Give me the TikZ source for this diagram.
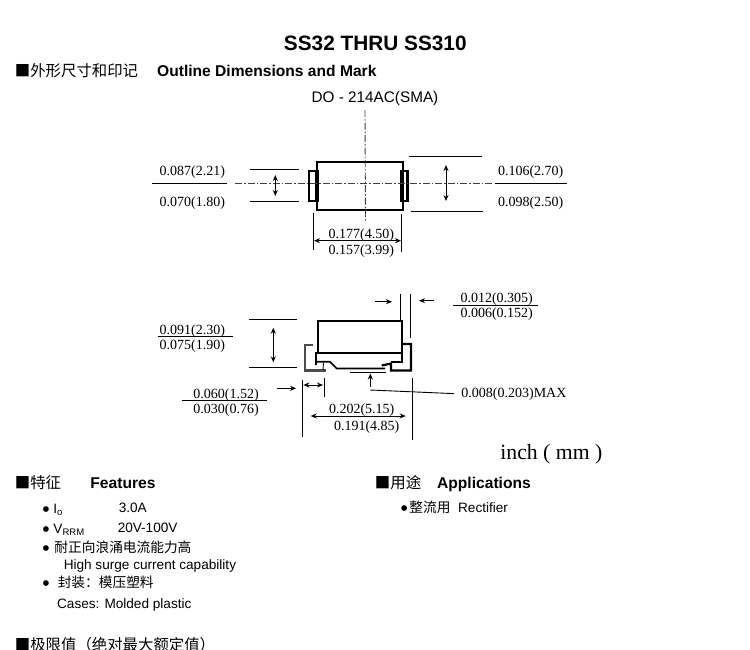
\documentclass[tikz,border=0pt]{standalone}
\usepackage{fontspec}
\setmainfont{Liberation Serif}
\setsansfont{Liberation Sans}
\newfontfamily\cjk{Noto Sans CJK SC}
\usetikzlibrary{arrows.meta}

\begin{document}
\begin{tikzpicture}[x=1pt, y=-1pt, >={Stealth[length=6pt,width=5pt]}, line width=0.9pt,
		val/.style = {inner sep=0, anchor=mid, yshift=-1.7pt, font=\fontsize{14}{14}\selectfont},
		head/.style = {inner sep=0, anchor=mid west, yshift=-3.5pt, font=\sffamily\bfseries\fontsize{15.6}{16}\selectfont},
		cjkhead/.style = {inner sep=0, anchor=mid west, yshift=-3.5pt, font=\cjk\fontsize{15.4}{16}\selectfont},
		cjktext/.style = {inner sep=0, anchor=mid west, yshift=-2.5pt, font=\cjk\fontsize{13.7}{14}\selectfont},
		body/.style = {inner sep=0, anchor=mid west, yshift=-2.5pt, font=\sffamily\fontsize{13.6}{14}\selectfont},
		blt/.style = {inner sep=0, anchor=center, yshift=-2.5pt, font=\sffamily\fontsize{21}{21}\selectfont},
		part/.style = {line width=1.7pt},
		lead/.style = {line width=2.2pt},
		axis/.style = {line width=0.9pt, black!75, dash pattern=on 7pt off 2pt on 1.5pt off 2pt}]
	\useasboundingbox (0,0) rectangle (750,649);
	\clip (0,0) rectangle (750,649);

	% headings
	\node[inner sep=0, anchor=mid, font=\sffamily\bfseries\fontsize{20.8}{21}\selectfont] (title) at (375.3,48.5) {SS32 THRU SS310};
	\node[cjkhead] (mark) at (14.5,71) {■外形尺寸和印记};
	\node[head] (marken) at (156.7,71) {Outline Dimensions and Mark};
	\node[inner sep=0, anchor=mid, font=\sffamily\fontsize{15.3}{16}\selectfont] (pack) at (375,100) {DO - 214AC(SMA)};

	% top view
	\draw[part] (317.3,162) rectangle (403.3,210.3);
	\draw[lead] (309.3,171) rectangle (317.3,201);
	\draw[lead] (401.5,171) rectangle (407.5,201);
	\draw[line width=3.2pt] (317,170) -- (317,202);
	\draw[axis] (235,183.7) -- (493,183.7);
	\draw[axis] (365,110) -- (365.5,222);

	\node[val] (wa) at (192.3,171) {0.087(2.21)};
	\node[val] (wb) at (192.3,202.5) {0.070(1.80)};
	\draw (152,183.7) -- (226.7,183.7);
	\draw (250,169.7) -- (299,169.7);
	\draw (250,201.3) -- (299,201.3);
	\draw[<->] (275.3,175) -- (275.3,196);

	\node[val] (ha) at (530.7,171) {0.106(2.70)};
	\node[val] (hb) at (530.7,202.5) {0.098(2.50)};
	\draw (495,183.7) -- (566.7,183.7);
	\draw (408.7,156.7) -- (482,156.7);
	\draw (410.7,211) -- (482.7,211);
	\draw[<->] (446,165) -- (446,201);

	\node[val] (la) at (361.3,234) {0.177(4.50)};
	\node[val] (lb) at (361.3,250.5) {0.157(3.99)};
	\draw (313.3,212.7) -- (313.3,250);
	\draw (401.3,214) -- (401.3,251.7);
	\draw[<->] (314,240.7) -- (401,240.7);

	% side view
	\draw[part] (317.7,320.7) rectangle (402.3,353.3);
	\draw[lead, black!70] (313.3,345) -- (305,345) -- (305,370.5) -- (326,370.5);
	\draw[lead] (402.3,344) -- (411,344) -- (411,370.5) -- (391,370.5) -- (391,363.5) -- (381.7,365.5);
	\draw[part] (316,352) -- (316,365);
	\draw[part] (316,361.7) -- (330,361.7) -- (336.7,368.5) -- (385,368.5);
	\draw[part] (391,361.7) -- (401.7,361.7) -- (401.7,353);
	\draw (323.5,363) -- (323,370);

	\node[val] (ta) at (496.7,298) {0.012(0.305)};
	\node[val] (tb) at (496.7,313) {0.006(0.152)};
	\draw (453.3,305) -- (538.3,305);
	\draw (400,294.3) -- (400,320);
	\draw (410.7,294.3) -- (410.7,337.7);
	\draw[->] (375,301.7) -- (392,301.7);
	\draw[->] (434.3,300.7) -- (419,300.7);

	\node[val] (ba) at (192.3,330) {0.091(2.30)};
	\node[val] (bb) at (192.3,345) {0.075(1.90)};
	\draw (158,336.7) -- (233.3,336.7);
	\draw (249,319.7) -- (296.7,319.7);
	\draw (249,367.7) -- (296.7,367.7);
	\draw[<->] (273.3,327.7) -- (273.3,362.3);

	\node[val] (ca) at (226,394) {0.060(1.52)};
	\node[val] (cb) at (226,409) {0.030(0.76)};
	\draw (182.3,400.7) -- (267.3,400.7);
	\draw[->] (276.7,388.3) -- (296,388.3);
	\draw (302.7,380) -- (302.7,436.7);
	\draw (324,377.7) -- (324,396.7);
	\draw[<->] (303.3,385) -- (323,385);

	\node[val] (da) at (361.7,409.5) {0.202(5.15)};
	\node[val] (db) at (366.7,426.5) {0.191(4.85)};
	\draw (412,377.7) -- (412,440);
	\draw[<->] (310.7,416) -- (405.7,416);

	\node[val, anchor=mid west] (gap) at (461,393.3) {0.008(0.203)MAX};
	\coordinate (gapend) at (370.3,390);
	\draw (350,372.3) -- (386,372.3);
	\draw[shorten >=7pt] (gapend) -- (gap.west);
	\draw[->] (370.3,386.7) -- (370.3,373.5);

	\node[inner sep=0, anchor=mid west, font=\fontsize{21.7}{22}\selectfont] (unit) at (500,457) {inch ( mm )};

	% features
	\node[cjkhead] (feat) at (14.5,482.5) {■特征};
	\node[head] (featen) at (90,482.5) {Features};
	\foreach \n/\y in {a/509.3, b/529.3, c/548.3, d/583.3}
		\node[blt] (dot\n) at (46,\y) {\textbullet};
	\node[body] (io) at (53,508.5) {I\textsubscript{o}};
	\node[body] (iov) at (118.3,508) {3.0A};
	\node[body] (vr) at (53,528.5) {V\textsubscript{RRM}};
	\node[body] (vrv) at (117.3,528) {20V-100V};
	\node[cjktext] (surge) at (54,548) {耐正向浪涌电流能力高};
	\node[body] (surgeen) at (63.3,565) {High surge current capability};
	\node[cjktext] (case) at (57.3,583) {封装：模压塑料};
	\node[body] (caseen) at (56.7,603.3) {Cases: Molded plastic};
	\node[cjkhead] (limit) at (14.5,645) {■极限值（绝对最大额定值）};

	% applications
	\node[cjkhead] (app) at (374.5,482.5) {■用途};
	\node[head] (appen) at (436.7,482.5) {Applications};
	\node[blt] (dote) at (404.3,507.7) {\textbullet};
	\node[cjktext] (rect) at (409,507.5) {整流用};
	\node[body] (recten) at (457.7,507.5) {Rectifier};
\end{tikzpicture}
\end{document}
